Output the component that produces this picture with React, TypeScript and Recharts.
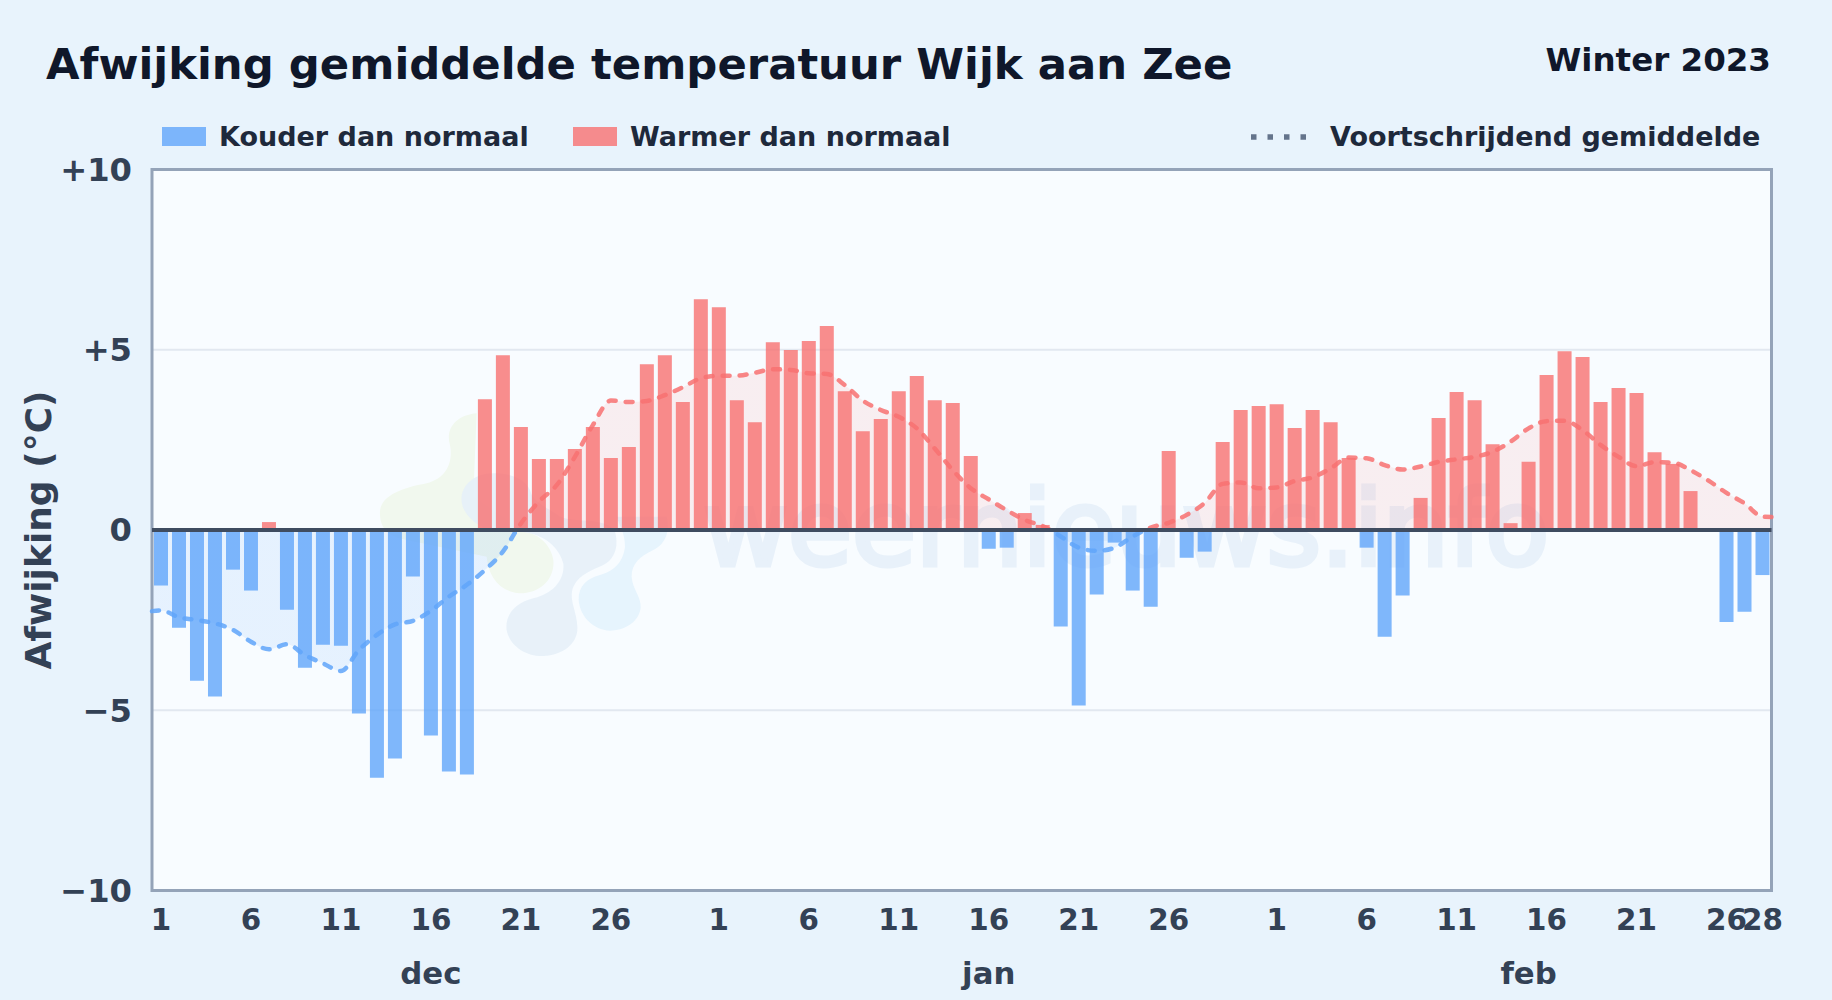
import { Area, Bar, CartesianGrid, ComposedChart, Line, ReferenceArea, ReferenceLine, XAxis, YAxis } from 'recharts';

// afwijking per dag, 1 dec t/m 28 feb
const dec = [-1.54, -2.71, -4.18, -4.62, -1.1, -1.68, 0.22, -2.21, -3.82, -3.18, -3.21, -5.09, -6.87, -6.34, -1.29, -5.7, -6.7, -6.78, 3.63, 4.85, 2.86, 1.97, 1.97, 2.25, 2.86, 2.0, 2.3, 4.6, 4.85, 3.55, 6.4];
const jan = [6.18, 3.6, 2.99, 5.21, 4.99, 5.24, 5.66, 3.85, 2.74, 3.08, 3.85, 4.27, 3.6, 3.52, 2.05, -0.52, -0.49, 0.47, 0.14, -2.68, -4.87, -1.79, -0.35, -1.68, -2.13, 2.19, -0.77, -0.6, 2.44, 3.33, 3.44];
const feb = [3.49, 2.83, 3.33, 2.99, 2.0, -0.49, -2.96, -1.82, 0.89, 3.11, 3.83, 3.6, 2.38, 0.19, 1.89, 4.3, 4.96, 4.8, 3.55, 3.94, 3.8, 2.16, 1.83, 1.08, 0, -2.55, -2.27, -1.25];

// voortschrijdend gemiddelde
const avgDec = [-2.23, -2.42, -2.5, -2.59, -2.77, -3.1, -3.31, -3.17, -3.47, -3.7, -3.91, -3.33, -2.91, -2.62, -2.52, -2.24, -1.85, -1.52, -1.11, -0.6, 0.18, 0.79, 1.25, 2.03, 2.91, 3.59, 3.55, 3.58, 3.74, 3.96, 4.21];
const avgJan = [4.28, 4.28, 4.36, 4.46, 4.44, 4.35, 4.33, 4.02, 3.59, 3.33, 3.14, 2.82, 2.26, 1.66, 1.16, 0.85, 0.55, 0.28, 0.11, -0.18, -0.49, -0.58, -0.49, -0.18, 0.07, 0.2, 0.42, 0.75, 1.28, 1.32, 1.16];
const avgFeb = [1.18, 1.36, 1.46, 1.71, 2.01, 1.99, 1.8, 1.68, 1.76, 1.89, 1.96, 2.03, 2.17, 2.45, 2.82, 3.02, 3.03, 2.77, 2.36, 2.03, 1.77, 1.88, 1.87, 1.66, 1.37, 1.03, 0.74, 0.37];
const avgStart = -2.25;
const avgEnd = 0.36;

const dayTicks = [1, 6, 11, 16, 21, 26, 32, 37, 42, 47, 52, 57, 63, 68, 73, 78, 83, 88, 90];
const dayLabels = ['1', '6', '11', '16', '21', '26', '1', '6', '11', '16', '21', '26', '1', '6', '11', '16', '21', '26', '28'];
const monthTicks = [16, 47, 77];
const monthLabels = ['dec', 'jan', 'feb'];
const valueTicks = [-10, -5, 0, 5, 10];

const anomaly = [...dec, ...jan, ...feb];
const smooth = [...avgDec, ...avgJan, ...avgFeb];

const barRows = anomaly.map((v, i) => ({
  day: i + 1,
  cold: v < 0 ? v : undefined,
  warm: v > 0 ? v : undefined,
}));

// the running mean reaches the plot edges, half a day past the first and last bar
const avgRows = [
  { day: 0.5, avg: avgStart },
  ...smooth.map((v, i) => ({ day: i + 1, avg: v })),
  { day: 90.5, avg: avgEnd },
];

const FONT = '"DejaVu Sans", sans-serif';
const BLUE = '#60a5fa';
const RED = '#f87171';
const PLOT_BG = '#f8fcff';
const TOP = 169.5;
const BOTTOM = 890.5;

const signValue = (v: number) => (v > 0 ? `+${v}` : v < 0 ? `\u2212${-v}` : '0');

const Watermark = () => (
  <g>
    <g transform="translate(360 390) scale(0.3333)">
      <path
        d="M350 70C290 75 255 115 270 165C280 215 260 265 200 280C120 295 55 320 60 375C62 420 90 440 140 450L380 500C385 560 420 610 490 610C550 605 585 560 580 510C575 470 540 430 490 425L340 320Z"
        fill="#f1f8ee"
      />
      <path
        d="M400 250C340 250 300 290 305 335C310 375 345 400 380 420L480 425C560 430 600 480 610 520C615 570 580 610 520 625C460 640 435 680 440 720C450 770 500 800 550 798C610 795 655 760 652 710C650 660 625 630 640 590C660 550 700 540 730 525C770 505 775 460 765 425C740 380 650 400 600 380C560 350 520 340 510 300C490 260 440 250 400 250Z"
        fill="#e6eff8"
        fillOpacity={0.9}
      />
      <path
        d="M920 380C930 420 920 460 880 480C840 500 815 520 815 560C818 600 845 620 842 655C835 700 790 722 750 722C700 720 660 680 656 630C655 590 680 565 720 555C770 540 790 510 795 470C795 430 780 410 770 380Z"
        fill="#e6f4fd"
      />
    </g>
    <text x={703} y={565} fontFamily={FONT} fontSize={104} fill="#e8f1fa" stroke="#e8f1fa" strokeWidth={5}>
      weernieuws.info
    </text>
  </g>
);

const Header = () => (
  <svg width={1832} height={170} style={{ position: 'absolute', left: 0, top: 0 }} fontFamily={FONT} fontWeight={700}>
    <text x={46} y={79} fontSize={43.35} fill="#0f172a">Afwijking gemiddelde temperatuur Wijk aan Zee</text>
    <text x={1771} y={70.5} fontSize={32.5} fill="#0f172a" textAnchor="end">Winter 2023</text>
    <rect x={162} y={127} width={44} height={19} fill={BLUE} fillOpacity={0.8} />
    <text x={219} y={146} fontSize={27} fill="#1e293b">Kouder dan normaal</text>
    <rect x={573} y={127} width={44} height={19} fill={RED} fillOpacity={0.8} />
    <text x={630} y={146} fontSize={27} fill="#1e293b">Warmer dan normaal</text>
    <line x1={1251} y1={137} x2={1308} y2={137} stroke="#64748b" strokeWidth={5.5} strokeDasharray="5.5 11" />
    <text x={1330} y={146} fontSize={27} fill="#1e293b">Voortschrijdend gemiddelde</text>
  </svg>
);

export default function App() {
  return (
    <div style={{ position: 'absolute', left: 0, top: 0, width: 1832, height: 1000, background: '#e8f3fc', overflow: 'hidden' }}>
      <Header />
      <ComposedChart
        width={1832}
        height={1000}
        data={barRows}
        margin={{ top: TOP, right: 60.5, bottom: 0, left: 0 }}
        style={{ position: 'absolute', left: 0, top: 0 }}
      >
        <defs>
          <linearGradient id="avgStroke" gradientUnits="userSpaceOnUse" x1={0} y1={TOP} x2={0} y2={BOTTOM}>
            <stop offset="50%" stopColor={RED} />
            <stop offset="50%" stopColor={BLUE} />
          </linearGradient>
          <linearGradient id="avgFill" gradientUnits="userSpaceOnUse" x1={0} y1={TOP} x2={0} y2={BOTTOM}>
            <stop offset="50%" stopColor={RED} stopOpacity={0.17} />
            <stop offset="50%" stopColor={BLUE} stopOpacity={0.2} />
          </linearGradient>
        </defs>
        <CartesianGrid vertical={false} fill={PLOT_BG} stroke="#e2e8f0" strokeWidth={2} />
        <Watermark />
        <XAxis
          dataKey="day"
          type="number"
          domain={[0.5, 90.5]}
          ticks={dayTicks}
          interval={0}
          tickFormatter={(v: number) => dayLabels[dayTicks.indexOf(v)]}
          tick={{ fontFamily: FONT, fontSize: 29.4, fontWeight: 700, fill: '#334155' }}
          tickLine={false}
          axisLine={false}
          tickSize={0}
          tickMargin={19}
          height={56}
        />
        <XAxis
          xAxisId="month"
          dataKey="day"
          type="number"
          domain={[0.5, 90.5]}
          ticks={monthTicks}
          interval={0}
          tickFormatter={(v: number) => monthLabels[monthTicks.indexOf(v)]}
          tick={{ fontFamily: FONT, fontSize: 30.8, fontWeight: 700, fill: '#334155' }}
          tickLine={false}
          axisLine={false}
          tickSize={0}
          tickMargin={16}
          height={53.5}
        />
        <YAxis
          type="number"
          domain={[-10, 10]}
          ticks={valueTicks}
          interval={0}
          tickFormatter={signValue}
          tick={{ fontFamily: FONT, fontSize: 32.2, fontWeight: 700, fill: '#334155' }}
          tickLine={false}
          axisLine={false}
          tickSize={0}
          tickMargin={20}
          width={152}
          label={{
            value: 'Afwijking (°C)',
            angle: -90,
            position: 'insideLeft',
            offset: 38,
            style: { fontFamily: FONT, fontSize: 36, fontWeight: 700, fill: '#334155', textAnchor: 'middle' },
          }}
        />
        <Area xAxisId="month" data={avgRows} dataKey="avg" type="monotone" baseValue={0} fill="url(#avgFill)" stroke="none" dot={false} activeDot={false} isAnimationActive={false} />
        <Bar dataKey="cold" stackId="temp" barSize={14} fill={BLUE} fillOpacity={0.8} isAnimationActive={false} />
        <Bar dataKey="warm" stackId="temp" barSize={14} fill={RED} fillOpacity={0.8} isAnimationActive={false} />
        <Line xAxisId="month" data={avgRows} dataKey="avg" type="monotone" stroke="url(#avgStroke)" strokeWidth={4.5} strokeDasharray="7 10" strokeLinecap="round" strokeOpacity={0.85} dot={false} activeDot={false} isAnimationActive={false} />
        <ReferenceLine y={0} stroke="#3f4c60" strokeWidth={4} />
        <ReferenceArea x1={0.5} x2={90.5} y1={-10} y2={10} fill="none" stroke="#94a3b8" strokeWidth={3} ifOverflow="visible" />
      </ComposedChart>
    </div>
  );
}
